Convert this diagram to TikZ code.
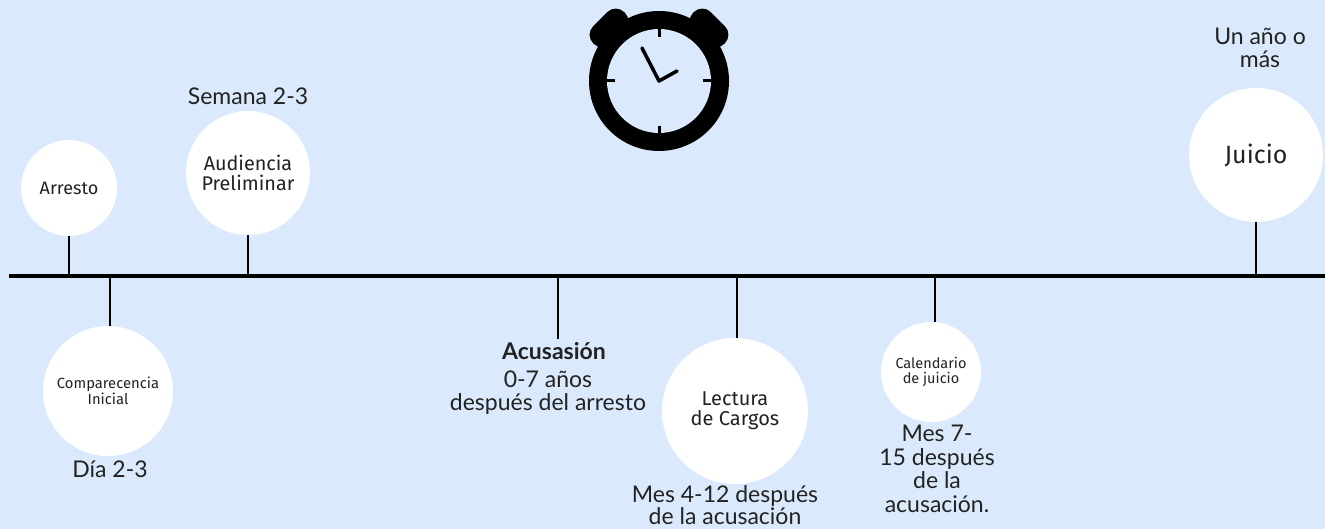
\documentclass[tikz,border=0pt]{standalone}
\usepackage{fontspec}
\setmainfont{Lato}
\newfontfamily\circfont{Fira Sans}
\definecolor{bg}{RGB}{218,234,252}
\definecolor{txt}{RGB}{34,34,34}
\begin{document}
\begin{tikzpicture}[x=1pt,y=-1pt,
  evt/.style={circle,fill=white,inner sep=0pt,text=txt,align=center,font=\circfont},
  lbl/.style={text=txt,align=center,inner sep=0pt,font=\fontsize{23}{23}\selectfont},
  stem/.style={line width=2.6pt,black},
  axis/.style={line width=4.5pt,black}]
\path[fill=bg] (0,0) rectangle (1325,529);
\useasboundingbox (0,0) rectangle (1325,529);
% timeline
\coordinate (tl0) at (9,276);
\coordinate (tl1) at (1325,276);
\draw[axis] (tl0) -- (tl1);
% events
\node[evt,minimum size=96pt,font=\circfont\fontsize{18}{19}\selectfont] (arr) at (69,188) {Arresto};
\node[evt,minimum size=124pt,font=\circfont\fontsize{19.8}{20}\selectfont] (aud) at (248,173) {Audiencia\\Preliminar};
\node[evt,minimum size=130pt,font=\circfont\fontsize{14.8}{14}\selectfont] (com) at (108,391) {Comparecencia\\Inicial};
\node[evt,minimum size=146pt,font=\circfont\fontsize{20}{20}\selectfont] (lec) at (735,411) {Lectura\\de Cargos};
\node[evt,minimum size=100pt,font=\circfont\fontsize{14.5}{15}\selectfont] (cal) at (931,372) {Calendario\\de juicio};
\node[evt,minimum size=134pt,font=\circfont\fontsize{25}{25}\selectfont] (jui) at (1256,155) {Juicio};
% labels
\node[lbl] (sem) at (248,96) {Semana 2-3};
\node[lbl] (dia) at (110,469) {Día 2-3};
\node[lbl,font=\bfseries\fontsize{23}{23}\selectfont] (acu) at (554,351) {Acusasión};
\node[lbl,anchor=north] (acut) at (548,371) {0-7 años\\después del arresto};
\node[lbl,anchor=north,font=\fontsize{23}{22}\selectfont] (mes4) at (725,485) {Mes 4-12 después\\de la acusación};
\node[lbl,anchor=north,font=\fontsize{23}{23.5}\selectfont] (mes7) at (937,425) {Mes 7-\\15 después\\de la\\acusación.};
\node[lbl,anchor=north,font=\fontsize{23}{23}\selectfont] (uno) at (1260,28) {Un año o\\más};
% stem coordinates on the timeline
\coordinate (s1) at (69,276);
\coordinate (s2) at (248,276);
\coordinate (s3) at (110,276);
\coordinate (s4) at (558,276);
\coordinate (s5) at (737,276);
\coordinate (s6) at (935,276);
\coordinate (s7) at (1256,276);
\draw[stem] (arr.south) -- (s1);
\draw[stem] (aud.south) -- (s2);
\draw[stem] (s3) -- (com.north -| s3);
\draw[stem] (s4) -- (558,339);
\draw[stem] (s5) -- (lec.north -| s5);
\draw[stem] (s6) -- (cal.north -| s6);
\draw[stem] (jui.south) -- (s7);
% clock
\coordinate (ck) at (659,81);
\node[fill=black,rounded corners=12pt,minimum width=44pt,minimum height=25pt,inner sep=0pt,rotate=45] (bellL) at (609,28) {};
\node[fill=black,rounded corners=12pt,minimum width=44pt,minimum height=25pt,inner sep=0pt,rotate=-45] (bellR) at (709,28) {};
\fill[black] (ck) circle[radius=70];
\fill[bg] (ck) circle[radius=52];
\begin{scope}[line width=3pt,line cap=butt]
\draw (659,28) -- (659,37);
\draw (659,126) -- (659,135);
\draw (606,81) -- (615,81);
\draw (703,81) -- (712,81);
\end{scope}
\draw[line width=3.5pt,line cap=round,line join=round] (642,48) -- (ck) -- (677,71);
\end{tikzpicture}
\end{document}
